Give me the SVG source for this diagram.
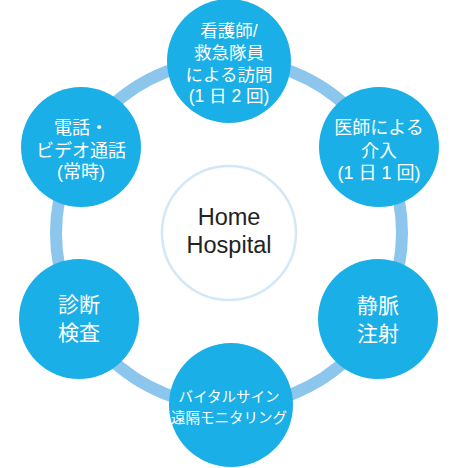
<svg xmlns="http://www.w3.org/2000/svg" width="452" height="468" viewBox="0 0 452 468">
<style>
.node{fill:#1aafe6;}
.t{fill:#ffffff;font-family:"Liberation Sans","Noto Sans CJK JP",sans-serif;text-anchor:middle;}
.ring{fill:none;stroke:#8cc6ec;stroke-width:12;}
</style>
<rect width="452" height="468" fill="#ffffff"/>
<g id="connectors">
<circle class="ring" cx="229" cy="233" r="173"/>
</g>
<g id="center">
<circle cx="229" cy="233" r="67" fill="#ffffff" stroke="#d3e8f7" stroke-width="2.5"/>
<text x="229" y="225" font-family="Liberation Sans, Arial, sans-serif" font-size="23.5" fill="#222222" text-anchor="middle">Home</text>
<text x="229" y="253" font-family="Liberation Sans, Arial, sans-serif" font-size="23.5" fill="#222222" text-anchor="middle">Hospital</text>
</g>
<g id="n-top">
<circle class="node" cx="229" cy="61" r="62"/>
<text class="t" font-size="17.5"><tspan x="229" y="37">看護師/</tspan><tspan x="229" y="59">救急隊員</tspan><tspan x="229" y="81">による訪問</tspan><tspan x="229" y="102">(1 日 2 回)</tspan></text>
</g>
<g id="n-upper-right">
<circle class="node" cx="379" cy="147" r="60"/>
<text class="t" font-size="18"><tspan x="379" y="134">医師による</tspan><tspan x="379" y="157">介入</tspan><tspan x="379" y="179">(1 日 1 回)</tspan></text>
</g>
<g id="n-upper-left">
<circle class="node" cx="81" cy="147" r="60"/>
<text class="t" font-size="18"><tspan x="81" y="134">電話・</tspan><tspan x="81" y="157">ビデオ通話</tspan><tspan x="81" y="178">(常時)</tspan></text>
</g>
<g id="n-lower-left">
<circle class="node" cx="79" cy="319" r="60"/>
<text class="t" font-size="21"><tspan x="79" y="312">診断</tspan><tspan x="79" y="340">検査</tspan></text>
</g>
<g id="n-lower-right">
<circle class="node" cx="378" cy="319" r="60"/>
<text class="t" font-size="21"><tspan x="378" y="313">静脈</tspan><tspan x="378" y="341">注射</tspan></text>
</g>
<g id="n-bottom">
<circle class="node" cx="231" cy="405" r="62"/>
<text class="t" font-size="14.5"><tspan x="229" y="402">バイタルサイン</tspan><tspan x="229" y="423">遠隔モニタリング</tspan></text>
</g>
</svg>
